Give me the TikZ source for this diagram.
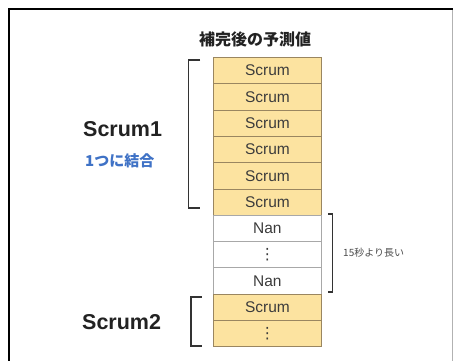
\documentclass[tikz,border=0pt]{standalone}
\usepackage{fontspec}
\setmainfont{Liberation Sans}
\newfontfamily\jp{Noto Sans CJK JP}
\newfontfamily\dv{DejaVu Sans}
\definecolor{cellfill}{HTML}{FCE3A0}
\definecolor{cellline}{HTML}{9A8660}
\definecolor{nanline}{HTML}{A8A8A8}
\definecolor{celltext}{HTML}{3C3C3C}
\definecolor{bluelbl}{HTML}{3F72C6}
\definecolor{darktext}{HTML}{222222}
\begin{document}
\begin{tikzpicture}[x=1pt,y=-1pt,
  cell/.style={draw=cellline, fill=cellfill, line width=0.8pt, minimum width=108pt,
    minimum height=26.3pt, inner sep=0pt, anchor=north west,
    font=\fontsize{15.5}{15.5}\selectfont, text=celltext},
  nancell/.style={cell, draw=nanline, fill=white},
  brk/.style={draw=black!80, line width=1.8pt},
  biglbl/.style={font=\bfseries\fontsize{21.5}{21.5}\selectfont, text=darktext, anchor=west, inner sep=0pt}]
\useasboundingbox (0,0) rectangle (453,361);
\fill[white] (0,0) rectangle (453,361);
% frame
\draw[line width=2pt] (9,361) -- (9,9.5) -- (453,9.5);
\draw[black!30, line width=1pt] (452,10) -- (452,361);
% title
\node[font=\jp\bfseries\fontsize{16}{16}\selectfont, text=darktext] (title) at (255,39.5) {補完後の予測値};
% cells
\foreach \i/\t/\s in {0/Scrum/cell,1/Scrum/cell,2/Scrum/cell,3/Scrum/cell,4/Scrum/cell,5/Scrum/cell,
  6/Nan/nancell,7/{\dv ⋮}/nancell,8/Nan/nancell,9/Scrum/cell,10/{\dv ⋮}/cell}
  \node[\s] (r\i) at (213,{57+26.3*\i}) {\t};
% brackets
\draw[brk] (200,60) -- (188.5,60) -- (188.5,208) -- (200,208);
\draw[brk] (201.5,297) -- (191,297) -- (191,346) -- (201.5,346);
\draw[brk] (328,214) -- (332.5,214) -- (332.5,292) -- (328,292);
% labels
\node[biglbl] (s1) at (83,129) {Scrum1};
\node[font=\jp\bfseries\fontsize{15}{15}\selectfont, text=bluelbl, anchor=west, inner sep=0pt] (join) at (85,160.5) {1つに結合};
\node[biglbl] (s2) at (82,322) {Scrum2};
\node[font=\jp\fontsize{10}{10}\selectfont, text=black!70, anchor=west, inner sep=0pt] (long) at (343,253) {15秒より長い};
\end{tikzpicture}
\end{document}
